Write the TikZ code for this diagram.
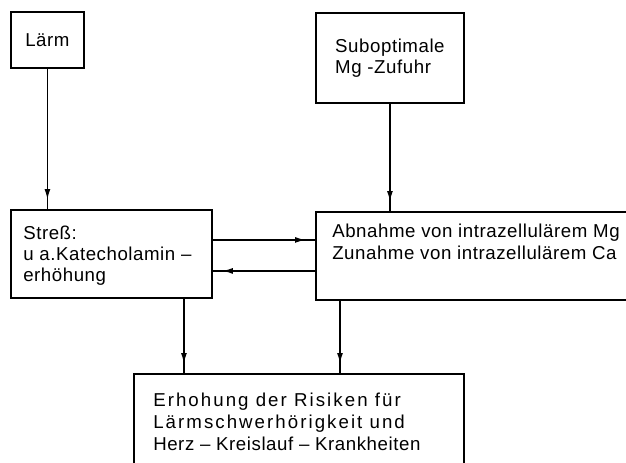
\documentclass[tikz,border=0pt]{standalone}
\usepackage{fontspec}
\setmainfont{Liberation Sans}
\newfontfamily\boxfont[LetterSpace=3]{Liberation Sans}
\newfontfamily\wideboxfont[LetterSpace=11]{Liberation Sans}
\usetikzlibrary{arrows.meta,decorations.markings,positioning}

\tikzset{
  box/.style={draw,line width=1.4pt,rectangle,inner sep=0pt,anchor=north west},
  boxtext/.style={font=\boxfont\fontsize{14}{16}\selectfont,align=left,inner sep=0pt},
  link/.style={line width=1.2pt,postaction={decorate},
    decoration={markings,mark=at position -7pt with {\arrow{Latex[length=8pt,width=4.5pt]}}}}
}

\begin{document}
\begin{tikzpicture}[x=0.75pt,y=0.75pt,yscale=-1,xscale=1]
\useasboundingbox (0,0) rectangle (626,462);
\clip (0,0) rectangle (626,462);

%Shape: Boxes
\node[box,boxtext,minimum width=54.75pt,minimum height=42pt] (laerm) at (10,11) {Lärm};
\node[box,boxtext,minimum width=111pt,minimum height=67.5pt] (subopt) at (315,12) {Suboptimale\\Mg -Zufuhr};
\node[box,minimum width=150.75pt,minimum height=66pt] (stress) at (10,209) {};
\node[box,minimum width=247.5pt,minimum height=66pt] (abn) at (315,211) {};
\node[box,minimum width=247.5pt,minimum height=87.75pt] (risiko) at (133,373) {};

% Text Node
\node[boxtext,font=\boxfont\fontsize{14}{15.5}\selectfont,anchor=north west] (stresstxt) at ([shift={(13,17)}]stress.north west) {Streß:\\u a.Katecholamin –\\erhöhung};
% Text Node
\node[boxtext,anchor=north west] (abntxt) at ([shift={(17,13)}]abn.north west) {Abnahme von intrazellulärem Mg\\Zunahme von intrazellulärem Ca};
% Text Node
\node[boxtext,font=\wideboxfont\fontsize{14}{16.5}\selectfont,anchor=north west] (risikotxt) at ([shift={(20,20)}]risiko.north west) {Erhohung der Risiken für\\Lärmschwerhörigkeit und\\{\boxfont Herz – Kreislauf – Krankheiten}};

%Straight Lines
\draw[link] (laerm.south) -- (laerm.south |- stress.north);
\draw[link] (subopt.south) -- (subopt.south |- abn.north);
\coordinate (s1) at ([shift={(0,-14)}]stress.east);
\draw[link] (s1) -- (s1 -| abn.west);
\coordinate (a1) at ([shift={(0,15)}]abn.west);
\draw[link] (a1) -- (a1 -| stress.east);
\coordinate (s2) at ([shift={(72.5,0)}]stress.south);
\draw[link] (s2) -- (s2 |- risiko.north);
\coordinate (a2) at ([shift={(25,0)}]abn.south west);
\draw[link] (a2) -- (a2 |- risiko.north);

\end{tikzpicture}
\end{document}
